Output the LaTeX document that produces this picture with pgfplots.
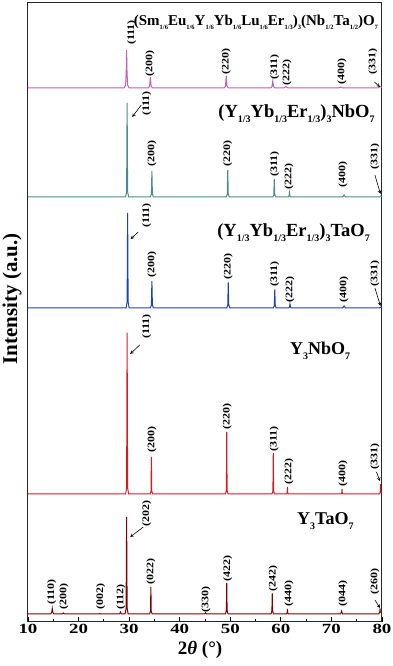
\documentclass[border=0pt]{standalone}
\usepackage{fontspec}
\setmainfont{Liberation Serif}
\newfontfamily\widefont[FakeStretch=1.35]{Liberation Serif}
\newfontfamily\midfont[FakeStretch=1.2]{Liberation Serif}
\usepackage{pgfplots}
\pgfplotsset{compat=1.18}
\definecolor{cmag}{RGB}{192,96,176}
\definecolor{cteal}{RGB}{74,140,140}
\definecolor{cblue}{RGB}{28,68,176}
\definecolor{cred}{RGB}{220,24,32}
\definecolor{cbrown}{RGB}{128,0,0}
\newcommand\hkl[1]{{\midfont\bfseries\fontsize{10}{10}\selectfont(#1)}}
\newcommand\sbs[2]{\raisebox{-0.25em}{\fontsize{#1}{#1}\selectfont #2}}
\begin{document}
\begin{tikzpicture}
\begin{axis}[
  at={(0,0)}, anchor=south west,
  scale only axis, width=354pt, height=619pt,
  xmin=10, xmax=80, ymin=0, ymax=619,
  xtick={10,20,...,80}, minor x tick num=1,
  ytick=\empty, xtick pos=left,
  tick align=inside,
  major tick length=5pt, minor tick length=3pt,
  tick style={black, line width=0.8pt},
  axis line style={line width=1pt, black!85},
  /pgf/number format/assume math mode=true,
  xticklabel style={font=\widefont\bfseries\fontsize{14}{14}\selectfont, yshift=1pt},
  xlabel={\textbf{2\textit{θ} (°)}},
  xlabel style={at={(axis description cs:0.486,-0.045)}, anchor=center, font=\fontsize{19}{19}\selectfont},
  ylabel={\textbf{Intensity (a.u.)}},
  ylabel style={at={(axis description cs:-0.045,0.522)}, anchor=center, font=\fontsize{21}{21}\selectfont},
  clip=false,
]
% magenta
\addplot[cmag, line width=1pt] coordinates {
(10,534) (29.0,534) (29.3,537) (29.42,550) (29.5,572) (29.58,550) (29.7,537) (30.0,534)
(33.8,534) (34.05,536) (34.2,545) (34.35,536) (34.6,534)
(48.8,534) (49.05,536) (49.2,546) (49.35,536) (49.6,534)
(58.0,534) (58.25,535.5) (58.4,541) (58.55,535.5) (58.8,534)
(60.6,534) (61.0,535.5) (61.4,534)
(71.4,534) (71.8,535) (72.2,534)
(79.2,534) (79.6,535.5) (80,534.5)
};
% teal
\addplot[cteal, line width=1pt] coordinates {
(10,425) (29.3,425) (29.5,430) (29.6,519) (29.7,430) (29.9,425)
(34.2,425) (34.4,428) (34.5,451) (34.6,428) (34.8,425)
(49.2,425) (49.4,428) (49.5,452) (49.6,428) (49.8,425)
(58.4,425) (58.6,427) (58.7,443) (58.8,427) (59.0,425)
(61.45,425) (61.6,426) (61.7,429.6) (61.8,426) (61.95,425)
(72.2,425) (72.5,427) (72.8,425)
(79.5,425) (79.8,426) (80,425)
};
% blue
\addplot[cblue, line width=1pt] coordinates {
(10,314) (29.4,314) (29.6,320) (29.7,409) (29.8,320) (30.0,314)
(34.2,314) (34.4,317) (34.5,341) (34.6,317) (34.8,314)
(49.3,314) (49.5,317) (49.6,339.6) (49.7,317) (49.9,314)
(58.5,314) (58.7,316) (58.8,332.6) (58.9,316) (59.1,314)
(61.55,314) (61.7,315) (61.8,318) (61.9,315) (62.05,314)
(72.2,314) (72.5,316) (72.8,314)
(79.5,314) (79.8,315) (80,314)
};
% red
\addplot[cred, line width=1pt] coordinates {
(10,128) (29.3,128) (29.5,134) (29.6,289) (29.7,134) (29.9,128)
(34.15,128) (34.33,131) (34.4,165) (34.47,131) (34.65,128)
(49.05,128) (49.23,132) (49.3,190) (49.37,132) (49.55,128)
(58.25,128) (58.43,131) (58.5,169) (58.57,131) (58.75,128)
(61.1,128) (61.25,129) (61.3,135) (61.35,129) (61.5,128)
(71.9,128) (72.05,129) (72.1,133) (72.15,129) (72.3,128)
(79.5,128) (79.65,130) (79.7,138) (79.75,130) (80,129)
};
% brown
\addplot[cbrown, line width=1pt] coordinates {
(10,8) (14.5,8) (14.7,10) (14.8,13.7) (14.9,10) (15.1,8)
(16.8,8) (17.0,9) (17.2,8)
(24.0,8) (24.2,8.5) (24.4,8)
(28.1,8) (28.3,10) (28.5,8)
(29.2,8) (29.4,14) (29.5,105) (29.6,14) (29.8,8)
(34.05,8) (34.23,11) (34.3,35) (34.37,11) (34.55,8)
(44.9,8) (45.1,9.3) (45.3,8)
(49.05,8) (49.23,12) (49.3,39) (49.37,12) (49.55,8)
(58.05,8) (58.23,11) (58.3,28.7) (58.37,11) (58.55,8)
(61.1,8) (61.25,9) (61.3,13) (61.35,9) (61.5,8)
(71.8,8) (72.0,11) (72.2,8)
(79.35,8) (79.55,10) (79.6,13.7) (79.65,10) (80,9)
};
% labels
\tikzset{hk/.style={rotate=90, anchor=west, inner sep=0pt}}
\tikzset{ar/.style={-stealth, line width=0.6pt, black}}
% magenta
\node[hk] at (axis cs:30.5,577) {\hkl{111}};
\node[hk] at (axis cs:34.1,545) {\hkl{200}};
\node[hk] at (axis cs:49.2,547) {\hkl{220}};
\node[hk] at (axis cs:58.8,542) {\hkl{311}};
\node[hk] at (axis cs:61.2,536) {\hkl{222}};
\node[hk] at (axis cs:72.1,537) {\hkl{400}};
\node[hk] at (axis cs:78.2,547) {\hkl{331}};
\draw[ar] (axis cs:78.5,540) -- (axis cs:79.6,535);
\node[anchor=base west, inner sep=0pt, font=\bfseries\fontsize{15}{15}\selectfont] at (axis cs:30.9,596)
 {(Sm\sbs{6.5}{1/6}Eu\sbs{6.5}{1/6}Y\sbs{6.5}{1/6}Yb\sbs{6.5}{1/6}Lu\sbs{6.5}{1/6}Er\sbs{6.5}{1/3})\sbs{6.5}{3}(Nb\sbs{6.5}{1/2}Ta\sbs{6.5}{1/2})O\sbs{6.5}{7}};
% teal
\node[hk] at (axis cs:33.5,506) {\hkl{111}};
\node[hk] at (axis cs:34.5,455) {\hkl{200}};
\node[hk] at (axis cs:49.5,455) {\hkl{220}};
\node[hk] at (axis cs:58.8,445) {\hkl{311}};
\node[hk] at (axis cs:61.6,432) {\hkl{222}};
\node[hk] at (axis cs:72.3,434) {\hkl{400}};
\node[hk] at (axis cs:78.6,452) {\hkl{331}};
\draw[ar] (axis cs:32.4,517) -- (axis cs:30.6,505);
\draw[ar] (axis cs:78.6,447) -- (axis cs:79.7,428);
\node[anchor=base west, inner sep=0pt, font=\bfseries\fontsize{18.5}{18.5}\selectfont] at (axis cs:47.6,504)
 {(Y\sbs{10}{1/3}Yb\sbs{10}{1/3}Er\sbs{10}{1/3})\sbs{10}{3}NbO\sbs{10}{7}};
% blue
\node[hk] at (axis cs:33.5,394) {\hkl{111}};
\node[hk] at (axis cs:34.5,344) {\hkl{200}};
\node[hk] at (axis cs:49.6,342) {\hkl{220}};
\node[hk] at (axis cs:58.8,335) {\hkl{311}};
\node[hk] at (axis cs:61.8,319) {\hkl{222}};
\node[hk] at (axis cs:72.5,319) {\hkl{400}};
\node[hk] at (axis cs:78.6,335) {\hkl{331}};
\draw[ar] (axis cs:31.8,390) -- (axis cs:30.3,383);
\draw[ar] (axis cs:78.6,334) -- (axis cs:79.7,316);
\node[anchor=base west, inner sep=0pt, font=\bfseries\fontsize{18.5}{18.5}\selectfont] at (axis cs:47.4,385)
 {(Y\sbs{10}{1/3}Yb\sbs{10}{1/3}Er\sbs{10}{1/3})\sbs{10}{3}TaO\sbs{10}{7}};
% red
\node[hk] at (axis cs:33.5,283) {\hkl{111}};
\node[hk] at (axis cs:34.5,169) {\hkl{200}};
\node[hk] at (axis cs:49.4,192) {\hkl{220}};
\node[hk] at (axis cs:58.7,170) {\hkl{311}};
\node[hk] at (axis cs:61.6,137) {\hkl{222}};
\node[hk] at (axis cs:72.3,135) {\hkl{400}};
\node[hk] at (axis cs:78.6,152) {\hkl{331}};
\draw[ar] (axis cs:32.1,277) -- (axis cs:30.2,268);
\draw[ar] (axis cs:78.9,150) -- (axis cs:79.6,141);
\node[anchor=base west, inner sep=0pt, font=\bfseries\fontsize{18}{18}\selectfont] at (axis cs:61.8,267)
 {Y\sbs{10}{3}NbO\sbs{10}{7}};
% brown
\node[hk] at (axis cs:33.5,95) {\hkl{202}};
\node[hk] at (axis cs:14.7,17) {\hkl{110}};
\node[hk] at (axis cs:17.1,12) {\hkl{200}};
\node[hk] at (axis cs:24.4,12) {\hkl{002}};
\node[hk] at (axis cs:28.4,12) {\hkl{112}};
\node[hk] at (axis cs:34.3,37) {\hkl{022}};
\node[hk] at (axis cs:45.2,9) {\hkl{330}};
\node[hk] at (axis cs:49.5,40) {\hkl{422}};
\node[hk] at (axis cs:58.5,30) {\hkl{242}};
\node[hk] at (axis cs:61.6,15) {\hkl{440}};
\node[hk] at (axis cs:72.3,15) {\hkl{044}};
\node[hk] at (axis cs:78.6,27) {\hkl{260}};
\draw[ar] (axis cs:32.8,95) -- (axis cs:30.2,85);
\draw[ar] (axis cs:78.6,22) -- (axis cs:79.6,14);
\node[anchor=base west, inner sep=0pt, font=\bfseries\fontsize{18}{18}\selectfont] at (axis cs:63.2,97)
 {Y\sbs{10}{3}TaO\sbs{10}{7}};
\end{axis}
\pgfresetboundingbox
\useasboundingbox (-28pt,-44pt) rectangle (365pt,622pt);
\end{tikzpicture}
\end{document}
